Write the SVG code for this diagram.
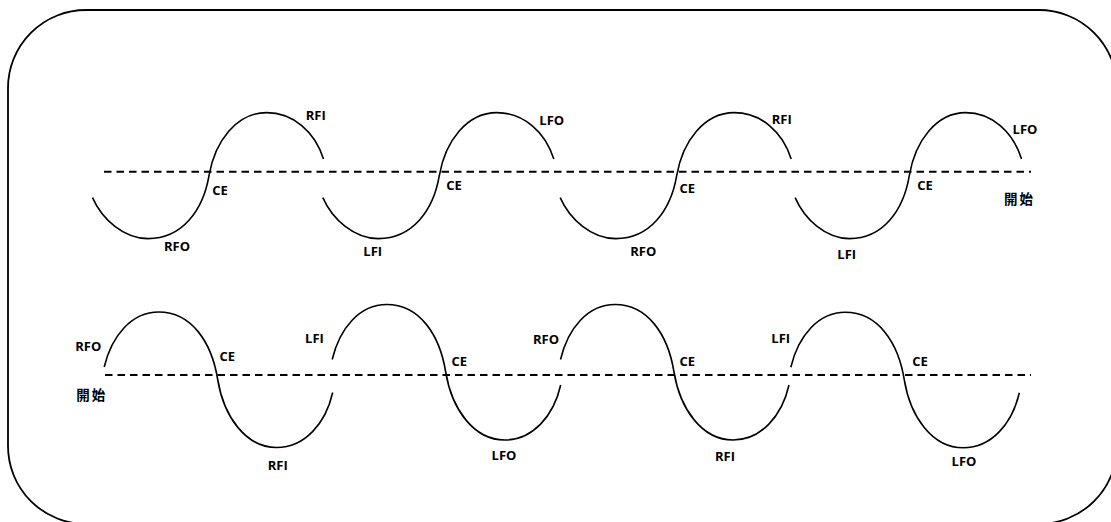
<svg xmlns="http://www.w3.org/2000/svg" width="1111" height="522" viewBox="0 0 1111 522">
<style>
.frame{fill:none;stroke:#000;stroke-width:1.8}
.base{fill:none;stroke:#000;stroke-width:2;stroke-dasharray:7.5 5}
.curve{fill:none;stroke:#000;stroke-width:1.6}
.lbl{font-family:"Open Sans","Noto Sans",sans-serif;font-weight:700;font-size:13px;fill:#000;text-anchor:middle}
.cjk{font-family:"Noto Sans CJK TC","Noto Sans CJK SC",sans-serif;font-weight:700;font-size:13.5px;letter-spacing:2px;fill:#000;text-anchor:middle}
</style>
<defs>
<path id="sTop" d="M -116.5 22 C -106.8 44 -85 63 -61 63 C -27 63 -6 35 0 0 C 6 -35 28 -63 57.5 -63 C 84 -63 106 -44 114.5 -16.5"/>
<path id="sBot" d="M -113.5 -12.5 C -106 -44 -86 -67.5 -59 -67.5 C -26 -67.5 -6 -37 0 0 C 6 37 28 68 59 68 C 87 68 108 44 115 13"/>
</defs>
<rect id="frame" class="frame" x="8" y="10" width="1109" height="514" rx="78" ry="78"/>
<g id="connectors">
<line class="base" x1="104" y1="171.7" x2="1031" y2="171.7"/>
<line class="base" x1="105" y1="375" x2="1031" y2="375"/>
</g>
<g id="top-row">
<g id="top-s1"><use href="#sTop" class="curve" transform="translate(209 175.6)"/></g>
<g id="top-s2"><use href="#sTop" class="curve" transform="translate(439.3 175.6)"/></g>
<g id="top-s3"><use href="#sTop" class="curve" transform="translate(676.7 175.6)"/></g>
<g id="top-s4"><use href="#sTop" class="curve" transform="translate(909.3 175.6) scale(0.98 1)"/></g>
</g>
<g id="bottom-row">
<g id="bot-s1"><use href="#sBot" class="curve" transform="translate(217.7 379.5)"/></g>
<g id="bot-s2"><use href="#sBot" class="curve" transform="translate(445.7 372)"/></g>
<g id="bot-s3"><use href="#sBot" class="curve" transform="translate(674 372)"/></g>
<g id="bot-s4"><use href="#sBot" class="curve" transform="translate(904.3 379.8)"/></g>
</g>
<g id="top-labels">
<text class="lbl" x="315.7" y="119.7">RFI</text>
<text class="lbl" x="220" y="194.7">CE</text>
<text class="lbl" x="177" y="250.7">RFO</text>
<text class="lbl" x="372.7" y="256.4">LFI</text>
<text class="lbl" x="454" y="190.4">CE</text>
<text class="lbl" x="551.7" y="124.7">LFO</text>
<text class="lbl" x="643.3" y="255.7">RFO</text>
<text class="lbl" x="687.3" y="193">CE</text>
<text class="lbl" x="781.7" y="123.7">RFI</text>
<text class="lbl" x="846.7" y="258.7">LFI</text>
<text class="lbl" x="925" y="189.7">CE</text>
<text class="lbl" x="1025" y="133.7">LFO</text>
<text class="cjk" x="1019.5" y="203.5">開始</text>
</g>
<g id="bottom-labels">
<text class="lbl" x="88.3" y="351.4">RFO</text>
<text class="cjk" x="91.7" y="399.5">開始</text>
<text class="lbl" x="227.3" y="361.4">CE</text>
<text class="lbl" x="277.7" y="469.7">RFI</text>
<text class="lbl" x="314.5" y="343">LFI</text>
<text class="lbl" x="459.3" y="366.4">CE</text>
<text class="lbl" x="504" y="460.4">LFO</text>
<text class="lbl" x="546" y="343.7">RFO</text>
<text class="lbl" x="687.3" y="366.4">CE</text>
<text class="lbl" x="725" y="461.4">RFI</text>
<text class="lbl" x="780.7" y="343">LFI</text>
<text class="lbl" x="920" y="365.7">CE</text>
<text class="lbl" x="964" y="466.4">LFO</text>
</g>
</svg>
